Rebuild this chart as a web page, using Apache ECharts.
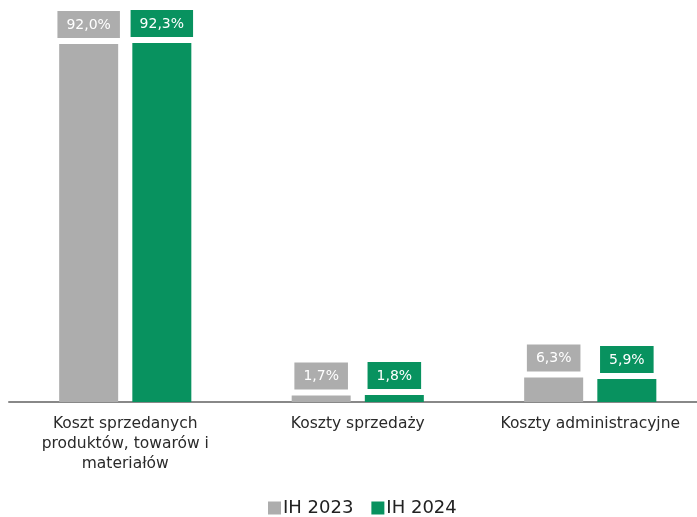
<!DOCTYPE html>
<html><head><meta charset="utf-8">
<script src="https://cdn.jsdelivr.net/npm/echarts@6/dist/echarts.min.js"></script>
<style>html,body{margin:0;padding:0;background:#fff}#c{width:697px;height:517px}</style>
</head><body><div id="c"></div>
<script>
const categories = ["Koszt sprzedanych\nproduktów, towarów i\nmateriałów", "Koszty sprzedaży", "Koszty administracyjne"];
const seriesNames = ["IH 2023", "IH 2024"];
const values2023 = [92.0, 1.7, 6.3];
const values2024 = [92.3, 1.8, 5.9];
const colors = ["#ADADAD", "#08925F"];
const FONT = "DejaVu Sans";
const fmt = p => p.value.toFixed(1).replace('.', ',') + '%';
function mk(name, data, color) {
  return {
    name, type: 'bar', data, barWidth: 59, barGap: '24%',
    itemStyle: { color },
    label: {
      show: true, position: 'top', distance: 6, formatter: fmt,
      color: '#fff', backgroundColor: color, padding: [7, 9, 6, 9],
      fontFamily: FONT, fontSize: 14
    }
  };
}
const chart = echarts.init(document.getElementById('c'));
chart.setOption({
  animation: false,
  textStyle: { fontFamily: FONT },
  grid: { left: 9, top: 13, bottom: 115, width: 697.5, outerBoundsMode: 'none', containLabel: false },
  xAxis: {
    type: 'category', data: categories,
    axisLine: { lineStyle: { color: '#888', width: 2 } },
    axisTick: { show: false },
    axisLabel: { color: '#2a2a2a', fontSize: 15.5, lineHeight: 20, margin: 12, fontFamily: FONT, interval: 0 }
  },
  yAxis: { type: 'value', min: 0, max: 100, show: false, splitLine: { show: false } },
  legend: {
    bottom: -5, left: 263, icon: 'rect', itemWidth: 13, itemHeight: 13, itemGap: 18,
    textStyle: { fontSize: 18, color: '#222', fontFamily: FONT, padding: [0, 0, 0, -3] },
    data: seriesNames
  },
  series: [mk(seriesNames[0], values2023, colors[0]), mk(seriesNames[1], values2024, colors[1])]
});
</script></body></html>
